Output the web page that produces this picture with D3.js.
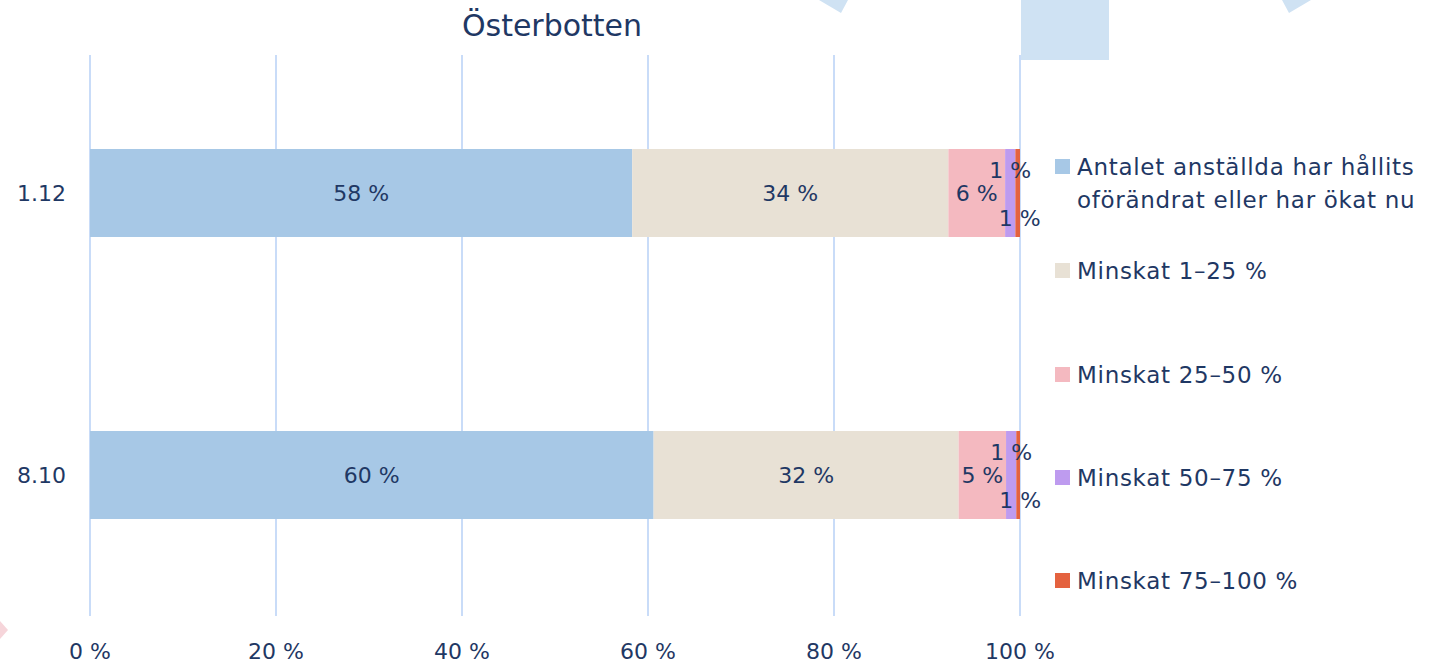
<!DOCTYPE html>
<html>
<head>
<meta charset="utf-8">
<script src="https://cdn.jsdelivr.net/npm/d3@7"></script>
<style>
  body { margin: 0; background: #fff; }
  text { font-family: "DejaVu Sans", sans-serif; fill: #1f3864; }
</style>
</head>
<body>
<div id="chart"></div>
<script>
(function(){
    // Data
    const categories = ["1.12", "8.10"];
    const seriesNames = [
        "Antalet anställda har hållits oförändrat eller har ökat nu",
        "Minskat 1–25 %",
        "Minskat 25–50 %",
        "Minskat 50–75 %",
        "Minskat 75–100 %"
    ];
    const values112 = [58.3, 34.0, 6.1, 1.1, 0.5];
    const values810 = [60.6, 32.8, 5.1, 1.1, 0.4];
    const labels112 = ["58 %", "34 %", "6 %", "1 %", "1 %"];
    const labels810 = ["60 %", "32 %", "5 %", "1 %", "1 %"];
    const xTicks = [0, 20, 40, 60, 80, 100];
    const colors = ["#a7c8e6", "#e8e1d5", "#f4b9c0", "#be9bef", "#e4623f"];

    const W = 1444, H = 664;
    const svg = d3.select("#chart").append("svg")
        .attr("width", W).attr("height", H);

    // background decorations
    svg.append("polygon").attr("points", "819,0 841,13 848,0").style("fill", "#cfe2f3");
    svg.append("rect").attr("x", 1021).attr("y", 0).attr("width", 88).attr("height", 60).style("fill", "#cfe2f3");
    svg.append("polygon").attr("points", "1282,0 1289,13 1311,0").style("fill", "#cfe2f3");
    svg.append("polygon").attr("points", "0,621 8,630 0,639").style("fill", "#f6d5da");

    const x = d3.scaleLinear().domain([0, 100]).range([90, 1020]);
    const y = d3.scaleBand().domain(categories).range([52, 616])
        .paddingInner(0.688).paddingOuter(0.344);

    // title
    svg.append("text")
        .attr("x", 552).attr("y", 36)
        .attr("text-anchor", "middle")
        .style("font-size", "30px")
        .text("Österbotten");

    // grid lines
    svg.selectAll(".grid").data(xTicks).enter().append("line")
        .attr("class", "grid")
        .attr("x1", d => x(d)).attr("x2", d => x(d))
        .attr("y1", 55).attr("y2", 616)
        .style("stroke", "#c9dcf8").style("stroke-width", 2);

    // x tick labels
    svg.selectAll(".xtick").data(xTicks).enter().append("text")
        .attr("class", "xtick")
        .attr("x", d => x(d)).attr("y", 659)
        .attr("text-anchor", "middle")
        .style("font-size", "22px")
        .text(d => d + " %");

    // category labels
    svg.selectAll(".ylab").data(categories).enter().append("text")
        .attr("class", "ylab")
        .attr("x", 66).attr("y", d => y(d) + y.bandwidth() / 2 + 8)
        .attr("text-anchor", "end")
        .style("font-size", "22px")
        .text(d => d);

    const rows = [
        { cat: "1.12", vals: values112, labels: labels112 },
        { cat: "8.10", vals: values810, labels: labels810 }
    ];

    rows.forEach(row => {
        let acc = 0;
        const segs = row.vals.map((v, i) => {
            const s = { i: i, x0: acc, x1: acc + v, label: row.labels[i] };
            acc += v;
            return s;
        });
        const g = svg.append("g");
        g.selectAll("rect").data(segs).enter().append("rect")
            .attr("x", d => x(d.x0))
            .attr("y", y(row.cat))
            .attr("width", d => x(d.x1) - x(d.x0))
            .attr("height", y.bandwidth())
            .style("fill", d => colors[d.i]);

        const cy = y(row.cat) + y.bandwidth() / 2;
        // small segments get their labels pushed up / down
        const dyOff = [0, 0, 0, -23, 25];
        const dxOff = [0, 0, 0, 0, 2];
        g.selectAll("text").data(segs).enter().append("text")
            .attr("x", d => (x(d.x0) + x(d.x1)) / 2 + dxOff[d.i])
            .attr("y", d => cy + 8 + dyOff[d.i])
            .attr("text-anchor", "middle")
            .style("font-size", "22px")
            .text(d => d.label);
    });

    // legend
    const legendY = [166, 270, 374, 477, 580];
    const leg = svg.selectAll(".leg").data(seriesNames).enter().append("g")
        .attr("class", "leg")
        .attr("transform", (d, i) => "translate(1055," + legendY[i] + ")");
    leg.append("rect")
        .attr("x", 0).attr("y", -7)
        .attr("width", 15).attr("height", 15)
        .style("fill", (d, i) => colors[i]);
    leg.each(function(d, i) {
        const t = d3.select(this).append("text")
            .attr("x", 22).attr("y", 9)
            .style("font-size", "23px")
            .style("letter-spacing", "0.7px");
        if (i === 0) {
            t.append("tspan").attr("x", 22).attr("y", 9).text("Antalet anställda har hållits");
            t.append("tspan").attr("x", 22).attr("y", 42).text("oförändrat eller har ökat nu");
        } else {
            t.text(d);
        }
    });
})();
</script>
</body>
</html>
